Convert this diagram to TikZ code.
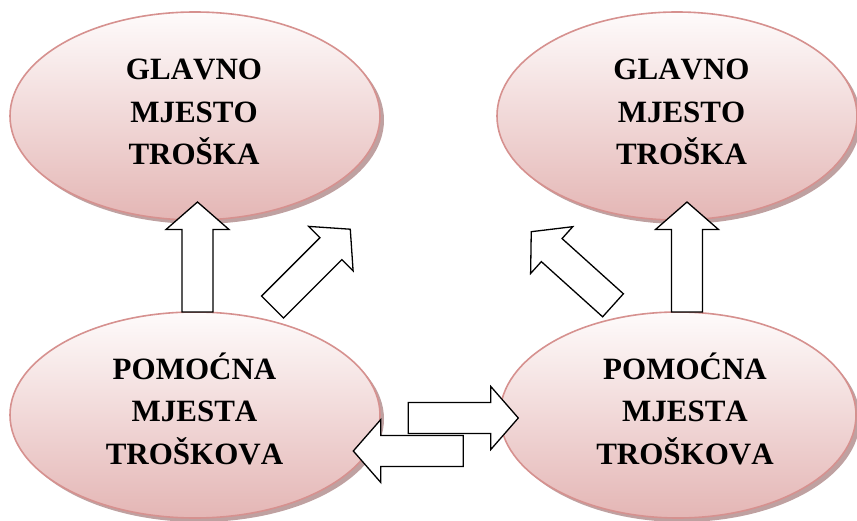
\documentclass[tikz,border=0pt]{standalone}
\usepackage{fontspec}
\setmainfont[Kerning=Off]{Liberation Serif}
\usetikzlibrary{shapes.geometric,shadings}
\definecolor{ellborder}{RGB}{214,145,143}
\definecolor{elltop}{RGB}{254,251,251}
\definecolor{ellbot}{RGB}{228,182,181}
\definecolor{ellshadow}{RGB}{170,130,130}
\tikzset{
  ellbox/.style={ellipse, inner sep=0pt, draw=ellborder, line width=1.6pt,
    top color=elltop, bottom color=ellbot},
  ellshade/.style={ellipse, inner sep=0pt, fill=ellshadow, fill opacity=0.75},
  label text/.style={inner sep=0pt, font=\fontsize{31}{42.5}\selectfont\bfseries},
  arrowbody/.style={draw=black, fill=white, line width=1.3pt, line join=miter},
  blockarrow/.pic={
    \path[arrowbody] (0,-15.5) -- (82.5,-15.5) -- (82.5,-31.5) -- (110,0)
      -- (82.5,31.5) -- (82.5,15.5) -- (0,15.5) -- cycle;
  }
}
\begin{document}
\begin{tikzpicture}[x=1pt,y=-1pt]
\useasboundingbox (0,0) rectangle (857,521);
% shadows
\node[ellshade, minimum width=370pt, minimum height=208pt] at (199,120) {};
\node[ellshade, minimum width=360pt, minimum height=208pt] at (681,120) {};
\node[ellshade, minimum width=370pt, minimum height=206pt] at (199,419) {};
\node[ellshade, minimum width=356pt, minimum height=206pt] at (682,419) {};
% ellipses
\node[ellbox, minimum width=370pt, minimum height=208pt] (gl1) at (195,116) {};
\node[ellbox, minimum width=360pt, minimum height=208pt] (gl2) at (677,116) {};
\node[ellbox, minimum width=370pt, minimum height=206pt] (po1) at (195,415) {};
\node[ellbox, minimum width=356pt, minimum height=206pt] (po2) at (678,415) {};
% texts
\node[label text] (t1) at (194,114) {\begin{tabular}{@{}c@{}}GLAVNO\\MJESTO\\TROŠKA\end{tabular}};
\node[label text] (t2) at (681.5,114) {\begin{tabular}{@{}c@{}}GLAVNO\\MJESTO\\TROŠKA\end{tabular}};
\node[label text] (t3) at (194.5,413.5) {\begin{tabular}{@{}c@{}}POMOĆNA\\MJESTA\\TROŠKOVA\end{tabular}};
\node[label text] (t4) at (685,413.5) {\begin{tabular}{@{}c@{}}POMOĆNA\\MJESTA\\TROŠKOVA\end{tabular}};
% block arrows
\pic (a1) at (197.5,312) [rotate=90] {blockarrow};
\pic (a2) at (687,312) [rotate=90] {blockarrow};
\pic (a3) at (272.5,307) [rotate=45] {blockarrow};
\pic (a4) at (613,305.3) [rotate=138] {blockarrow};
\pic (a5) at (408.3,418) {blockarrow};
\pic (a6) at (463.3,451) [rotate=180] {blockarrow};
\end{tikzpicture}
\end{document}
